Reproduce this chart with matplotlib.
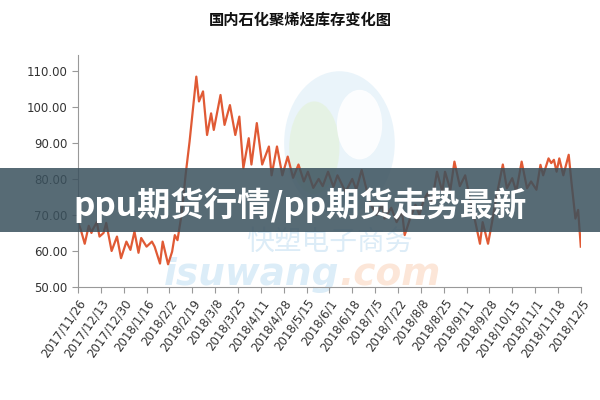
import matplotlib
matplotlib.use('Agg')
import matplotlib.pyplot as plt
from matplotlib.patches import Rectangle, Ellipse
import numpy as np

plt.rcParams['font.family'] = ['Noto Sans CJK SC', 'DejaVu Sans']

# Data: days since 2017/11/26 and inventory values
days = [0, 2, 5, 8, 10, 11, 14, 16, 19, 21, 25, 29, 32, 36, 39, 42, 45, 47, 51, 55,
        57, 61, 63, 67, 70, 72, 74, 77, 80, 83, 88, 90, 93, 96, 99, 101, 106, 109, 113, 117,
        120, 123, 127, 129, 133, 137, 142, 144, 148, 152, 156, 160, 164, 168, 171, 175, 179, 182, 186, 190,
        193, 199, 204, 207, 211, 215, 218, 222, 226, 228, 233, 237, 241, 243, 247, 251, 254, 257, 260, 263,
        267, 271, 273, 277, 280, 284, 288, 292, 295, 299, 301, 305, 308, 311, 316, 319, 323, 326, 330, 334,
        337, 341, 344, 346, 350, 352, 354, 356, 358, 361, 365, 367, 370, 372, 374]
values = [68, 66, 62, 67, 65, 66, 68, 64, 65, 67.8, 60, 64, 58, 62.6, 60.3, 65.4, 59.5, 63.6, 61.2, 62.6,
          61.2, 56.5, 62.6, 56.3, 59.8, 64.4, 63, 70, 81, 90.4, 108.4, 101.5, 104.3, 92.2, 98.2, 93.6, 103.3, 95, 100.5, 92.2,
          97.3, 83, 91.3, 84, 95.5, 84, 89, 81, 89, 81, 86.2, 80.3, 84, 79.3, 82, 77.5, 80, 78, 82, 77.8,
          81, 76.4, 80, 77, 82.5, 76.5, 72.8, 70, 72.8, 69, 72, 68, 71, 64.4, 69, 72.8, 70, 74, 76, 73,
          82, 76.5, 82, 77, 84.8, 78, 81, 73.7, 69, 62, 68, 62, 68, 74.6, 84, 77.4, 80.2, 76.5, 84.8, 77.4,
          79.3, 77, 83.9, 81, 85.7, 84.4, 85.3, 82, 85.7, 81, 86.7, 79.3, 69, 71.4, 61.2]

tick_days = list(range(0, 375, 17))
tick_labels = ['2017/11/26', '2017/12/13', '2017/12/30', '2018/1/16', '2018/2/2', '2018/2/19',
               '2018/3/8', '2018/3/25', '2018/4/11', '2018/4/28', '2018/5/15', '2018/6/1',
               '2018/6/18', '2018/7/5', '2018/7/22', '2018/8/8', '2018/8/25', '2018/9/11',
               '2018/9/28', '2018/10/15', '2018/11/1', '2018/11/18', '2018/12/5']
y_ticks = [50, 60, 70, 80, 90, 100, 110]

title = '国内石化聚烯烃库存变化图'
banner = 'ppu期货行情/pp期货走势最新'

fig = plt.figure(figsize=(6, 4), dpi=100)
ax = fig.add_axes([0.13, 0.2825, 0.838, 0.58])

# faint watermark behind the line
ax.add_patch(Ellipse((0.52, 0.62), 0.22, 0.62, transform=ax.transAxes,
                     facecolor='#dcedf8', edgecolor='none', alpha=0.6, zorder=0))
ax.add_patch(Ellipse((0.47, 0.60), 0.10, 0.40, transform=ax.transAxes,
                     facecolor='#e4f2dc', edgecolor='none', alpha=0.7, zorder=0))
ax.add_patch(Ellipse((0.56, 0.70), 0.09, 0.30, transform=ax.transAxes,
                     facecolor='white', edgecolor='none', alpha=0.9, zorder=0))
ax.text(0.50, 0.19, '快塑电子商务', transform=ax.transAxes, fontsize=20,
        color='#dcecf7', ha='center', va='center', style='italic', zorder=0)
ax.text(0.52, 0.05, 'isuwang', transform=ax.transAxes, fontsize=27, fontweight='bold',
        color='#dcedf8', ha='right', va='center', style='italic',
        family='DejaVu Sans', zorder=0)
ax.text(0.52, 0.05, '.com', transform=ax.transAxes, fontsize=27, fontweight='bold',
        color='#fce6d8', ha='left', va='center', style='italic',
        family='DejaVu Sans', zorder=0)

ax.plot(days, values, color='#e05a35', linewidth=1.6, zorder=2)

ax.set_xlim(0, 374)
ax.set_ylim(50, 114.4)
ax.set_yticks(y_ticks)
ax.set_yticklabels([f'{v:.2f}' for v in y_ticks], fontsize=8.5, color='#333333',
                   family='DejaVu Sans')
ax.set_xticks(tick_days)
ax.set_xticklabels(tick_labels, rotation=55, ha='right', rotation_mode='anchor',
                   fontsize=8.5, color='#333333', family='DejaVu Sans')
ax.tick_params(axis='both', direction='out', length=4, color='#999999', width=0.8)
ax.tick_params(axis='x', pad=3)
for s in ['top', 'right']:
    ax.spines[s].set_visible(False)
for s in ['left', 'bottom']:
    ax.spines[s].set_color('#999999')
    ax.spines[s].set_linewidth(0.8)

fig.text(0.5, 0.95, title, ha='center', va='center', fontsize=11, fontweight='bold',
         color='#111111')

# overlay banner
fig.add_artist(Rectangle((0, 0.42), 1, 0.16, transform=fig.transFigure,
                         facecolor='#3a515d', edgecolor='none', alpha=0.85, zorder=10))
fig.text(0.5, 0.487, banner, ha='center', va='center', fontsize=24, fontweight='bold',
         color='white', zorder=11)

fig.savefig('out.png', dpi=100)
